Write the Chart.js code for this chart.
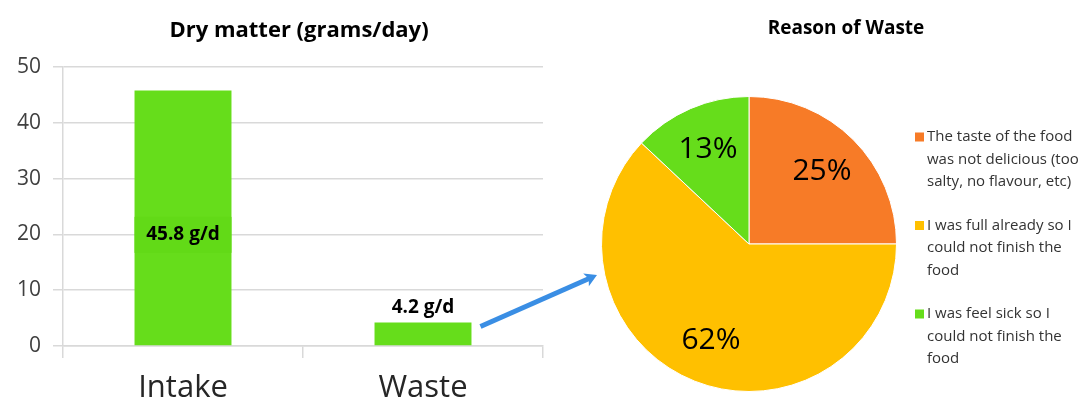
<!DOCTYPE html>
<html>
<head>
<meta charset="utf-8">
<script src="https://cdn.jsdelivr.net/npm/chart.js@4/dist/chart.umd.min.js"></script>
<style>
  html, body { margin: 0; padding: 0; background: #fff; }
  #wrap { position: relative; width: 1088px; height: 408px; overflow: hidden; }
  #barCanvas { position: absolute; left: 0; top: 0; }
  #pieCanvas { position: absolute; left: 560px; top: 0; }
</style>
</head>
<body>
<div id="wrap">
  <canvas id="barCanvas" width="1088" height="408"></canvas>
  <canvas id="pieCanvas" width="528" height="408"></canvas>
</div>
<script>
// ---- Data ----
const barTitle = 'Dry matter (grams/day)';
const barCategories = ['Intake', 'Waste'];
const barValues = [45.8, 4.2];
const barValueLabels = ['45.8 g/d', '4.2 g/d'];
const yTicks = [0, 10, 20, 30, 40, 50];

const pieTitle = 'Reason of Waste';
const pieCategories = [
  ['The taste of the food', 'was not delicious (too', 'salty, no flavour, etc)'],
  ['I was full already so I', 'could not finish the', 'food'],
  ['I was feel sick so I', 'could not finish the', 'food']
];
const pieValues = [25, 62, 13];
const pieColors = ['#F77B27', '#FFC000', '#66DD1B'];

const FONT = '"Open Sans", "DejaVu Sans", sans-serif';
const GREEN = '#66DD1B';
const GRID = '#D9D9D9';

// ---- Bar chart ----
const barPlugin = {
  id: 'barExtras',
  afterDraw(chart) {
    const ctx = chart.ctx;
    const area = chart.chartArea;
    // Title
    ctx.save();
    ctx.font = 'bold 22px ' + FONT;
    ctx.fillStyle = '#000';
    ctx.textAlign = 'center';
    ctx.textBaseline = 'middle';
    ctx.fillText(barTitle, (area.left + area.right) / 2 - 4, 31);
    ctx.restore();

    const meta = chart.getDatasetMeta(0);
    // Value labels
    meta.data.forEach((bar, i) => {
      const w = bar.width;
      ctx.save();
      ctx.font = 'bold 19px ' + FONT;
      ctx.textAlign = 'center';
      ctx.textBaseline = 'middle';
      if (i === 0) {
        const cy = (bar.y + bar.base) / 2 + 17;
        ctx.fillStyle = '#62DA17';
        ctx.fillRect(bar.x - w / 2, cy - 18, w, 36);
        ctx.fillStyle = '#000';
        ctx.fillText(barValueLabels[i], bar.x, cy);
      } else {
        ctx.fillStyle = '#000';
        ctx.fillText(barValueLabels[i], bar.x, bar.y - 15);
      }
      ctx.restore();
    });

    // Arrow from the Waste bar toward the pie chart
    const wb = meta.data[1];
    const x0 = wb.x + wb.width / 2 + 9, y0 = wb.y + 4;
    const x1 = 597, y1 = 275;
    const ang = Math.atan2(y1 - y0, x1 - x0);
    ctx.save();
    ctx.strokeStyle = '#3A8EE4';
    ctx.fillStyle = '#3A8EE4';
    ctx.lineWidth = 5;
    ctx.beginPath();
    ctx.moveTo(x0, y0);
    ctx.lineTo(x1 - Math.cos(ang) * 8, y1 - Math.sin(ang) * 8);
    ctx.stroke();
    ctx.translate(x1, y1);
    ctx.rotate(ang);
    ctx.beginPath();
    ctx.moveTo(0, 0);
    ctx.lineTo(-12, -7);
    ctx.lineTo(-9, 0);
    ctx.lineTo(-12, 7);
    ctx.closePath();
    ctx.fill();
    ctx.restore();
  }
};

new Chart(document.getElementById('barCanvas'), {
  type: 'bar',
  data: {
    labels: barCategories,
    datasets: [{
      data: barValues,
      backgroundColor: GREEN,
      borderWidth: 0,
      barPercentage: 0.404,
      categoryPercentage: 1.0
    }]
  },
  options: {
    responsive: false,
    animation: false,
    events: [],
    layout: { padding: { left: 0, right: 545, top: 67, bottom: 0 } },
    plugins: { legend: { display: false }, title: { display: false }, tooltip: { enabled: false } },
    scales: {
      y: {
        min: 0, max: 50,
        afterBuildTicks(scale) { scale.ticks = yTicks.map(v => ({ value: v })); },
        afterFit(scale) { scale.width = 63; },
        ticks: { font: { family: FONT, size: 21 }, color: '#404040', padding: 12 },
        grid: { color: GRID, lineWidth: 1.5, tickLength: 10 },
        border: { color: GRID, width: 1.5 }
      },
      x: {
        afterFit(scale) { scale.height = 62; },
        ticks: { font: { family: FONT, size: 31 }, color: '#262626', padding: 12 },
        grid: { drawOnChartArea: false, color: GRID, lineWidth: 1.5, tickLength: 12, offset: true },
        border: { color: GRID, width: 1.5 }
      }
    }
  },
  plugins: [barPlugin]
});

// ---- Pie chart ----
const piePlugin = {
  id: 'pieExtras',
  afterDraw(chart) {
    const ctx = chart.ctx;
    // Title
    ctx.save();
    ctx.font = 'bold 19px ' + FONT;
    ctx.fillStyle = '#000';
    ctx.textAlign = 'center';
    ctx.textBaseline = 'middle';
    ctx.fillText(pieTitle, 286, 29);
    ctx.restore();

    // Percent labels
    const meta = chart.getDatasetMeta(0);
    const total = pieValues.reduce((a, b) => a + b, 0);
    meta.data.forEach((arc, i) => {
      const mid = (arc.startAngle + arc.endAngle) / 2;
      const r = arc.outerRadius * 0.7;
      ctx.save();
      ctx.font = '30px ' + FONT;
      ctx.fillStyle = '#000';
      ctx.textAlign = 'center';
      ctx.textBaseline = 'middle';
      ctx.fillText(Math.round(pieValues[i] / total * 100) + '%', arc.x + Math.cos(mid) * r, arc.y + Math.sin(mid) * r);
      ctx.restore();
    });

    // Legend
    const lx = 355, tx = 367, lineH = 22.5;
    let y = 137;
    pieCategories.forEach((lines, i) => {
      ctx.save();
      ctx.fillStyle = pieColors[i];
      ctx.fillRect(lx, y - 4.5, 9, 9);
      ctx.font = '15px ' + FONT;
      ctx.fillStyle = '#333333';
      ctx.textAlign = 'left';
      ctx.textBaseline = 'middle';
      lines.forEach((t, k) => ctx.fillText(t, tx, y + k * lineH));
      ctx.restore();
      y += lines.length * lineH + 21;
    });
  }
};

new Chart(document.getElementById('pieCanvas'), {
  type: 'pie',
  data: {
    labels: pieCategories,
    datasets: [{
      data: pieValues,
      backgroundColor: pieColors,
      borderColor: '#ffffff',
      borderWidth: 1
    }]
  },
  options: {
    responsive: false,
    animation: false,
    events: [],
    layout: { padding: { left: 41, right: 191, top: 96, bottom: 16 } },
    plugins: { legend: { display: false }, title: { display: false }, tooltip: { enabled: false } }
  },
  plugins: [piePlugin]
});
</script>
</body>
</html>
